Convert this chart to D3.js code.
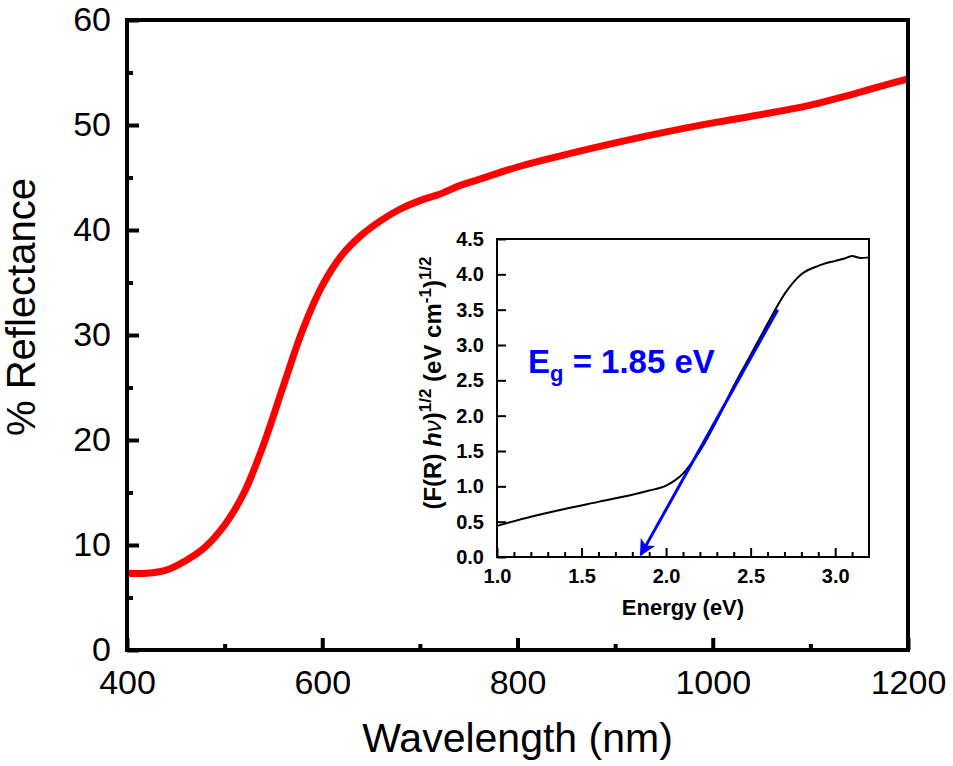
<!DOCTYPE html>
<html>
<head>
<meta charset="utf-8">
<script src="https://cdn.jsdelivr.net/npm/d3@7"></script>
<style>
  body { margin: 0; background: #fff; }
  text { font-family: "Liberation Sans", Arial, sans-serif; }
</style>
</head>
<body>
<svg width="953" height="766"></svg>
<script>
let width = 953, height = 766;

// main spectrum
var wavelength = [400, 420, 440, 460, 480, 500, 520, 540, 560, 580, 600, 620, 640, 660, 680, 700, 720, 740, 760, 800, 850, 900, 950, 1000, 1050, 1100, 1150, 1180, 1200]
var reflectance = [7.3, 7.3, 7.6, 8.5, 9.8, 11.9, 15.0, 19.6, 25.1, 30.5, 34.7, 37.6, 39.5, 40.9, 42.0, 42.8, 43.4, 44.2, 44.8, 46.0, 47.2, 48.3, 49.3, 50.2, 51.0, 51.9, 53.1, 53.9, 54.4]
var xTicks = [400, 600, 800, 1000, 1200]
var yTicks = [0, 10, 20, 30, 40, 50, 60]

// inset (Tauc-like plot)
var energy = [1.0, 1.2, 1.4, 1.6, 1.8, 1.9, 2.0, 2.05, 2.1, 2.15, 2.2, 2.3, 2.4, 2.5, 2.6, 2.7, 2.75, 2.8, 2.9, 3.0, 3.05, 3.1, 3.15, 3.2]
var fr = [0.44, 0.57, 0.68, 0.78, 0.88, 0.94, 1.01, 1.08, 1.18, 1.33, 1.50, 1.93, 2.42, 2.86, 3.30, 3.72, 3.88, 4.00, 4.12, 4.19, 4.22, 4.26, 4.23, 4.24]
var fitE = [2.66, 1.85]
var fitF = [3.5, 0.03]
var insetXTicks = [1.0, 1.5, 2.0, 2.5, 3.0]
var insetYTicks = [0.0, 0.5, 1.0, 1.5, 2.0, 2.5, 3.0, 3.5, 4.0, 4.5]

let svg = d3.select("svg")

// ---------- main plot ----------
let m = {left: 127, right: 908, top: 20, bottom: 650}

var x = d3.scaleLinear().domain([400, 1200]).range([m.left, m.right])
var y = d3.scaleLinear().domain([0, 60]).range([m.bottom, m.top])

var xMajor = d3.axisBottom(x).tickValues(xTicks).tickSizeInner(-12).tickSizeOuter(0).tickPadding(20).tickFormat(d3.format("d"))
var xMinor = d3.axisBottom(x).tickValues([500, 700, 900, 1100]).tickSizeInner(-6).tickSizeOuter(0).tickFormat("")
var yMajor = d3.axisLeft(y).tickValues(yTicks).tickSizeInner(-12).tickSizeOuter(0).tickPadding(16)
var yMinor = d3.axisLeft(y).tickValues([5, 15, 25, 35, 45, 55]).tickSizeInner(-6).tickSizeOuter(0).tickFormat("")

svg.append("path")
    .datum(wavelength.map((w, i) => [w, reflectance[i]]))
    .attr("fill", "none")
    .attr("stroke", "#ff0000")
    .attr("stroke-width", 7)
    .attr("stroke-linejoin", "round")
    .attr("d", d3.line().x(d => x(d[0])).y(d => y(d[1])).curve(d3.curveCatmullRom))

function styleAxis(g, lw, fs, bold) {
    g.select(".domain").remove()
    g.selectAll("line").attr("stroke", "#000").attr("stroke-width", lw)
    g.selectAll("text")
        .attr("fill", "#000")
        .style("font-size", fs + "px")
        .style("font-weight", bold ? "bold" : "normal")
        .style("font-family", "'Liberation Sans', Arial, sans-serif")
}

svg.append("g").attr("transform", "translate(0," + m.bottom + ")").call(xMajor).call(g => styleAxis(g, 4, 34))
svg.append("g").attr("transform", "translate(0," + m.bottom + ")").call(xMinor).call(g => styleAxis(g, 4, 34))
svg.append("g").attr("transform", "translate(" + m.left + ",0)").call(yMajor).call(g => styleAxis(g, 4, 34))
svg.append("g").attr("transform", "translate(" + m.left + ",0)").call(yMinor).call(g => styleAxis(g, 4, 34))

svg.append("rect")
    .attr("x", m.left).attr("y", m.top)
    .attr("width", m.right - m.left).attr("height", m.bottom - m.top)
    .attr("fill", "none").attr("stroke", "#000").attr("stroke-width", 4)

svg.append("text")
    .attr("x", (m.left + m.right) / 2).attr("y", 752)
    .attr("text-anchor", "middle")
    .style("font-size", "41px")
    .text("Wavelength (nm)")

svg.append("text")
    .attr("transform", "translate(35,307) rotate(-90)")
    .attr("text-anchor", "middle")
    .style("font-size", "40px")
    .text("% Reflectance")

// ---------- inset ----------
let n = {left: 497, right: 869, top: 239, bottom: 557}

var ix = d3.scaleLinear().domain([1.0, 3.2]).range([n.left, n.right])
var iy = d3.scaleLinear().domain([0, 4.5]).range([n.bottom, n.top])

var ixMajor = d3.axisBottom(ix).tickValues(insetXTicks).tickSizeInner(-9).tickSizeOuter(0).tickPadding(12).tickFormat(d3.format(".1f"))
var ixMinor = d3.axisBottom(ix).tickValues(d3.range(11, 32).map(v => v / 10).filter(v => Math.round(v * 10) % 5 != 0))
    .tickSizeInner(-5).tickSizeOuter(0).tickFormat("")
var iyMajor = d3.axisLeft(iy).tickValues(insetYTicks).tickSizeInner(-9).tickSizeOuter(0).tickPadding(13).tickFormat(d3.format(".1f"))

svg.append("g").attr("transform", "translate(0," + n.bottom + ")").call(ixMajor).call(g => styleAxis(g, 2, 20, true))
svg.append("g").attr("transform", "translate(0," + n.bottom + ")").call(ixMinor).call(g => styleAxis(g, 2, 20, true))
svg.append("g").attr("transform", "translate(" + n.left + ",0)").call(iyMajor).call(g => styleAxis(g, 2, 20, true))

svg.append("path")
    .datum(energy.map((e, i) => [e, fr[i]]))
    .attr("fill", "none")
    .attr("stroke", "#000")
    .attr("stroke-width", 2)
    .attr("d", d3.line().x(d => ix(d[0])).y(d => iy(d[1])).curve(d3.curveMonotoneX))

svg.append("defs").append("marker")
    .attr("id", "arrow")
    .attr("viewBox", "0 0 10 10")
    .attr("refX", 9).attr("refY", 5)
    .attr("markerWidth", 7).attr("markerHeight", 5.5)
    .attr("markerUnits", "strokeWidth")
    .attr("orient", "auto")
    .append("path")
    .attr("d", "M0,0 L10,5 L0,10 L2.5,5 Z")
    .attr("fill", "#0000ff")

svg.append("line")
    .attr("x1", ix(fitE[0])).attr("y1", iy(fitF[0]))
    .attr("x2", ix(fitE[1])).attr("y2", iy(fitF[1]))
    .attr("stroke", "#0000ff")
    .attr("stroke-width", 3)
    .attr("marker-end", "url(#arrow)")

svg.append("rect")
    .attr("x", n.left).attr("y", n.top)
    .attr("width", n.right - n.left).attr("height", n.bottom - n.top)
    .attr("fill", "none").attr("stroke", "#000").attr("stroke-width", 2)

svg.append("text")
    .attr("x", (n.left + n.right) / 2).attr("y", 615)
    .attr("text-anchor", "middle")
    .style("font-size", "22px").style("font-weight", "bold")
    .text("Energy (eV)")

let ylab = svg.append("text")
    .attr("transform", "translate(441,383) rotate(-90)")
    .attr("text-anchor", "middle")
    .style("font-size", "24px").style("font-weight", "bold")
ylab.append("tspan").text("(F(R) ")
ylab.append("tspan").style("font-style", "italic").text("h")
ylab.append("tspan").style("font-style", "italic").style("font-weight", "normal").text("ν")
ylab.append("tspan").text(")")
ylab.append("tspan").attr("dy", -10).style("font-size", "17px").text("1/2")
ylab.append("tspan").attr("dy", 10).text(" (eV cm")
ylab.append("tspan").attr("dy", -10).style("font-size", "17px").text("-1")
ylab.append("tspan").attr("dy", 10).text(")")
ylab.append("tspan").attr("dy", -10).style("font-size", "17px").text("1/2")

let eg = svg.append("text")
    .attr("x", 528).attr("y", 373)
    .attr("fill", "#0000ff")
    .style("font-size", "33px").style("font-weight", "bold")
eg.append("tspan").text("E")
eg.append("tspan").attr("dy", 8).style("font-size", "22px").text("g")
eg.append("tspan").attr("dy", -8).text(" = 1.85 eV")
</script>
</body>
</html>
